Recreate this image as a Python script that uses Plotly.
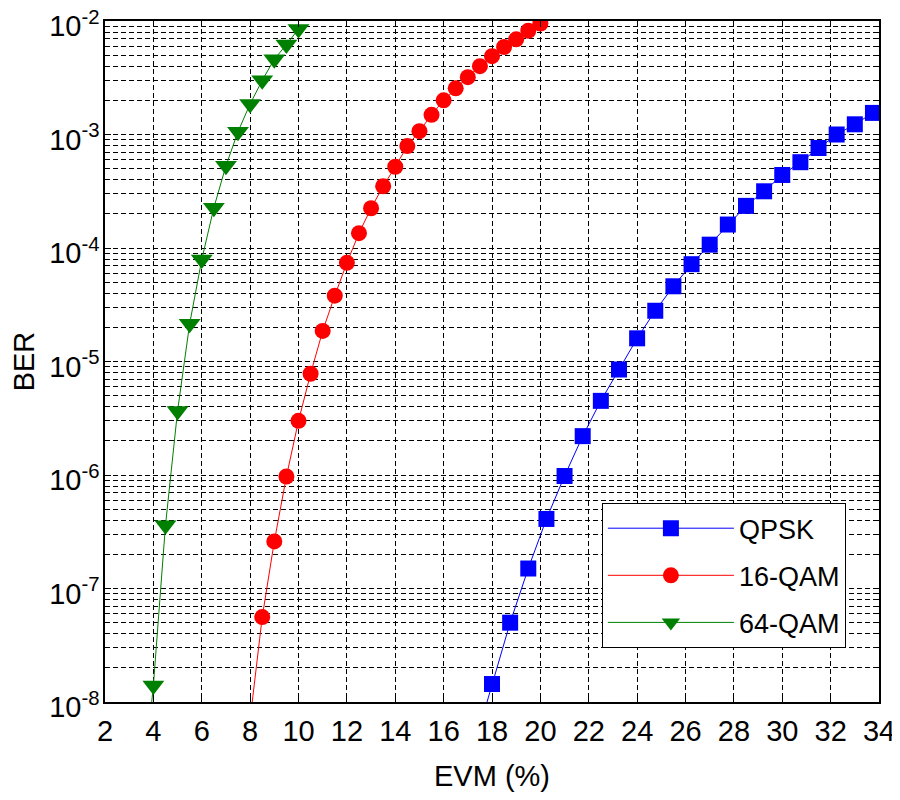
import plotly.graph_objects as go

# EVM (%) vs BER
evm_qpsk = [17.25, 18.0, 18.75, 19.5, 20.25, 21.0, 21.75, 22.5, 23.25, 24.0, 24.75, 25.5,
            26.25, 27.0, 27.75, 28.5, 29.25, 30.0, 30.75, 31.5, 32.25, 33.0, 33.75, 34.5]
ber_qpsk = [4e-9, 1.44e-8, 5.0e-8, 1.5e-7, 4.1e-7, 9.8e-7, 2.2e-6, 4.5e-6, 8.5e-6, 1.6e-5,
            2.8e-5, 4.6e-5, 7.2e-5, 1.07e-4, 1.61e-4, 2.35e-4, 3.16e-4, 4.4e-4, 5.7e-4,
            7.6e-4, 1.0e-3, 1.23e-3, 1.55e-3, 1.9e-3]

evm_16qam = [8.0, 8.5, 9.0, 9.5, 10.0, 10.5, 11.0, 11.5, 12.0, 12.5, 13.0, 13.5, 14.0,
             14.5, 15.0, 15.5, 16.0, 16.5, 17.0, 17.5, 18.0, 18.5, 19.0, 19.5, 20.0]
ber_16qam = [7e-9, 5.6e-8, 2.6e-7, 9.7e-7, 3.0e-6, 7.8e-6, 1.86e-5, 3.8e-5, 7.4e-5, 1.35e-4,
             2.24e-4, 3.5e-4, 5.2e-4, 7.9e-4, 1.07e-3, 1.49e-3, 2.0e-3, 2.55e-3, 3.2e-3,
             4.0e-3, 4.9e-3, 5.9e-3, 6.9e-3, 8.2e-3, 9.5e-3]

evm_64qam = [3.5, 4.0, 4.5, 5.0, 5.5, 6.0, 6.5, 7.0, 7.5, 8.0, 8.5, 9.0, 9.5, 10.0]
ber_64qam = [1.2e-9, 1.4e-8, 3.6e-7, 3.66e-6, 2.15e-5, 7.9e-5, 2.26e-4, 5.3e-4, 1.06e-3,
             1.86e-3, 3.0e-3, 4.6e-3, 6.2e-3, 8.5e-3]

x_ticks = [2, 4, 6, 8, 10, 12, 14, 16, 18, 20, 22, 24, 26, 28, 30, 32, 34]
y_exponents = [-8, -7, -6, -5, -4, -3, -2]
y_ticks = [10.0 ** e for e in y_exponents]
y_ticktext = ["10<sup>%d</sup>" % e for e in y_exponents]
y_minor = [m * 10.0 ** e for e in y_exponents[:-1] for m in range(2, 10)]

FONT = "Liberation Sans, Arial, Helvetica, sans-serif"
GRID_DASH = "5px,3px"

series = [
    ("QPSK", evm_qpsk, ber_qpsk, "#0000ff", "square", 16),
    ("16-QAM", evm_16qam, ber_16qam, "#ff0000", "circle", 16),
    ("64-QAM", evm_64qam, ber_64qam, "#008000", "triangle-down", 19),
]

fig = go.Figure()
for name, x, y, color, symbol, size in series:
    fig.add_trace(go.Scatter(
        x=x, y=y, name=name, mode="lines+markers",
        legendgroup=name,
        line=dict(color=color, width=1),
        marker=dict(symbol=symbol, size=size, color=color, line=dict(width=0)),
    ))

# the page body adds an 8px margin, so the figure is 8px smaller and margins shifted
fig.update_layout(
    width=892, height=792,
    margin=dict(l=97, r=21, t=13, b=98),
    paper_bgcolor="white", plot_bgcolor="white",
    font=dict(family=FONT, size=29, color="black"),
    legend=dict(
        x=0.642, y=0.292, xanchor="left", yanchor="top",
        bgcolor="white", bordercolor="black", borderwidth=1,
        font=dict(size=27), tracegroupgap=9, itemwidth=126,
    ),
)

fig.update_xaxes(
    range=[2, 34], tickmode="array", tickvals=x_ticks,
    showline=True, linecolor="black", linewidth=1.5, mirror="ticks",
    ticks="inside", ticklen=6, tickcolor="black",
    showgrid=True, gridcolor="black", gridwidth=1, griddash=GRID_DASH,
    zeroline=False, ticklabelstandoff=2, automargin=False,
    tickfont=dict(size=29),
    title=dict(text="EVM (%)", font=dict(size=29), standoff=20),
)
fig.update_yaxes(
    type="log", range=[-8, -2],
    tickmode="array", tickvals=y_ticks, ticktext=y_ticktext,
    showline=True, linecolor="black", linewidth=1.5, mirror="ticks",
    ticks="inside", ticklen=6, tickcolor="black",
    showgrid=True, gridcolor="black", gridwidth=1, griddash=GRID_DASH,
    minor=dict(tickmode="array", tickvals=y_minor, ticks="inside", ticklen=4,
               tickcolor="black", showgrid=True, gridcolor="black", gridwidth=1,
               griddash=GRID_DASH),
    zeroline=False, ticklabelstandoff=-2, automargin=False,
    ticklabeloverflow="allow", ticklabelshift=5,
    tickfont=dict(size=29),
    title=dict(text="BER", font=dict(size=29), standoff=10),
)

fig.write_html("out.html")
